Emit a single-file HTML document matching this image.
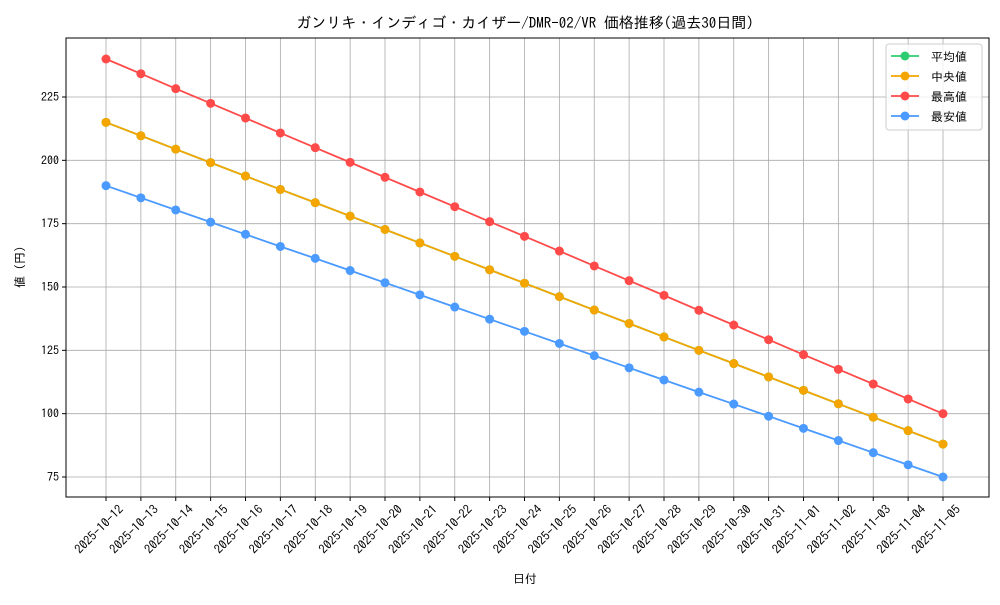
<!DOCTYPE html>
<html><head><meta charset="utf-8"><style>
body{margin:0;background:#fff}
text{font-family:"IPAGothic","Noto Sans CJK JP",sans-serif;fill:#000}
</style></head><body>
<svg id="c" width="1000" height="600"></svg>
<script>
const dates=["2025-10-12","2025-10-13","2025-10-14","2025-10-15","2025-10-16","2025-10-17","2025-10-18","2025-10-19","2025-10-20","2025-10-21","2025-10-22","2025-10-23","2025-10-24","2025-10-25","2025-10-26","2025-10-27","2025-10-28","2025-10-29","2025-10-30","2025-10-31","2025-11-01","2025-11-02","2025-11-03","2025-11-04","2025-11-05"];
const meanVals=[215,209.7,204.4,199.1,193.8,188.5,183.3,178,172.7,167.4,162.1,156.8,151.5,146.2,140.9,135.6,130.3,125,119.8,114.5,109.2,103.9,98.6,93.3,88];
const medianVals=[215,209.7,204.4,199.1,193.8,188.5,183.3,178,172.7,167.4,162.1,156.8,151.5,146.2,140.9,135.6,130.3,125,119.8,114.5,109.2,103.9,98.6,93.3,88];
const maxVals=[240,234.2,228.3,222.5,216.7,210.8,205,199.2,193.3,187.5,181.7,175.8,170,164.2,158.3,152.5,146.7,140.8,135,129.2,123.3,117.5,111.7,105.8,100];
const minVals=[190,185.2,180.4,175.6,170.8,166,161.3,156.5,151.7,146.9,142.1,137.3,132.5,127.7,122.9,118.1,113.3,108.5,103.8,99,94.2,89.4,84.6,79.8,75];
const yTicks=[75,100,125,150,175,200,225];
const seriesNames=["平均値","中央値","最高値","最安値"];
const colors=["#2ecc71","#f5a500","#ff4a4a","#4a9aff"];
const svg=document.getElementById('c');const NS='http://www.w3.org/2000/svg';
function mk(t,a,p){const e=document.createElementNS(NS,t);for(const k in a)e.setAttribute(k,a[k]);(p||svg).appendChild(e);return e;}
const L=66,R=989,T=38,B=497;
const xs=i=>106+i*(943-106)/(dates.length-1);
const ys=v=>477-(v-75)*(477-97)/150;
let e=mk('rect',{x:L,y:T,width:R-L,height:B-T,fill:'#fff'});


dates.forEach((d,i)=>{const x=xs(i);
 e=mk('line',{x1:x,x2:x,y1:T,y2:B,stroke:'#aaa','stroke-width':0.8});
 
 
 mk('line',{x1:x,x2:x,y1:B,y2:B+4,stroke:'#000'});
 const ax=x+12,ay=B+7;
 e=mk('text',{x:ax,y:ay,'font-size':12.5,'text-anchor':'end',transform:`rotate(-45 ${ax} ${ay})`,'dominant-baseline':'hanging'});e.textContent=d;
 
 
});
yTicks.forEach(v=>{const y=ys(v);
 e=mk('line',{x1:L,x2:R,y1:y,y2:y,stroke:'#aaa','stroke-width':0.8});
 
 
 mk('line',{x1:L-4,x2:L,y1:y,y2:y,stroke:'#000'});
 e=mk('text',{x:L-7,y:y+4,'font-size':12,'text-anchor':'end'});e.textContent=v;
 
 
});
e=mk('rect',{x:L,y:T,width:R-L,height:B-T,fill:'none',stroke:'#000','stroke-width':1});


[meanVals,medianVals,maxVals,minVals].forEach((s,k)=>{
 const g=mk('g',{});
 
 
 mk('polyline',{points:s.map((v,i)=>xs(i)+','+ys(v)).join(' '),fill:'none',stroke:colors[k],'stroke-width':1.8},g);
 s.forEach((v,i)=>{const c=mk('circle',{cx:xs(i),cy:ys(v),r:4.5,fill:colors[k]},g);
  
  });
});
const lg=mk('g',{});


mk('rect',{x:886,y:44,width:96,height:86,rx:3,fill:'#fff','fill-opacity':0.8,stroke:'#ccc'},lg);
seriesNames.forEach((n,k)=>{const y=56+k*20;
 mk('line',{x1:891,x2:919,y1:y,y2:y,stroke:colors[k],'stroke-width':1.8},lg);
 mk('circle',{cx:905,cy:y,r:4.5,fill:colors[k]},lg);
 e=mk('text',{x:931,y:y+5,'font-size':12},lg);e.textContent=n;
 
 
});
e=mk('text',{x:525,y:28,'font-size':15,'text-anchor':'middle'});e.textContent='ガンリキ・インディゴ・カイザー/DMR-02/VR 価格推移(過去30日間)';


e=mk('text',{x:525,y:583,'font-size':12,'text-anchor':'middle'});e.textContent='日付';


e=mk('text',{x:24,y:267,'font-size':12,'text-anchor':'middle',transform:'rotate(-90 24 267)'});e.textContent='値 (円)';


</script>
</body></html>
